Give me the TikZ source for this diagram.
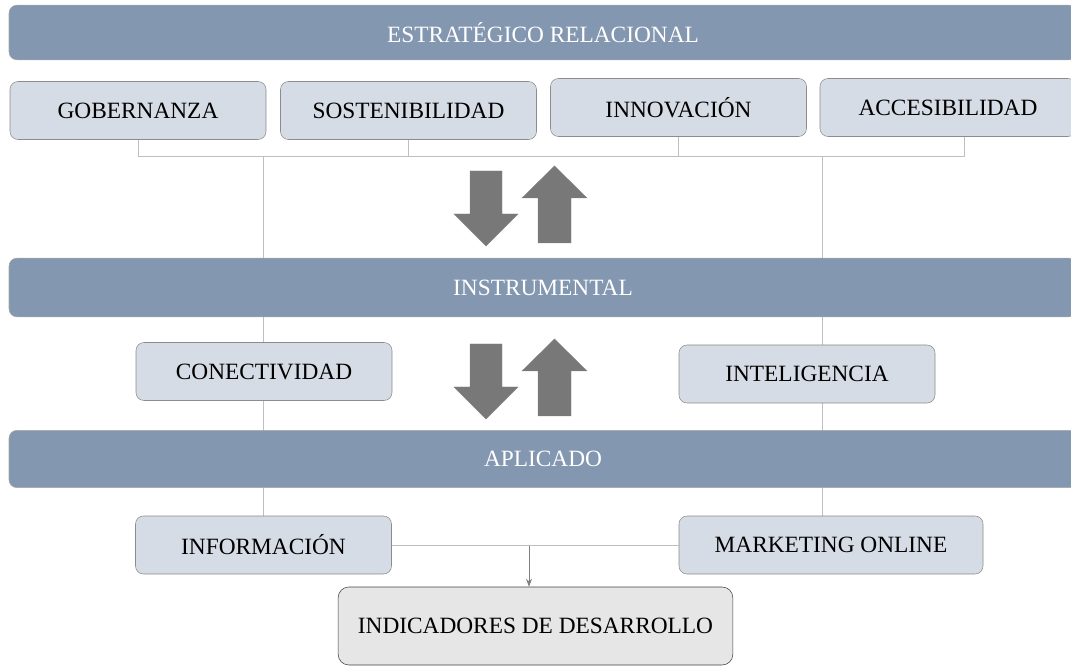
\documentclass[tikz,border=0pt]{standalone}
\usepackage{fontspec}
\setmainfont{Liberation Serif}
\usetikzlibrary{arrows.meta}

\definecolor{barfill}{HTML}{8497B0}
\definecolor{boxfill}{HTML}{D6DCE5}
\definecolor{endfill}{HTML}{E7E6E6}
\definecolor{blockgray}{HTML}{787878}
\definecolor{linkgray}{HTML}{BFBFBF}

\tikzset{
  lvlbar/.style={draw=gray!70, fill=barfill, rounded corners=6pt, inner sep=0pt,
    minimum width=801pt, minimum height=43pt, text=white, font=\fontsize{17.5}{21}\selectfont},
  topicbox/.style={draw=gray!90, fill=boxfill, rounded corners=6pt, inner sep=0pt,
    minimum width=192pt, minimum height=43.5pt, font=\fontsize{17.5}{21}\selectfont},
  endbox/.style={draw=black!75, fill=endfill, rounded corners=8pt, inner sep=0pt,
    minimum width=296pt, minimum height=58.5pt, font=\fontsize{17.5}{21}\selectfont},
  link/.style={draw=linkgray, line width=0.6pt},
  blockarrow/.style={fill=blockgray, draw=blockgray!90, line width=0.3pt}
}

\begin{document}
\begin{tikzpicture}[x=0.75pt,y=0.75pt,yscale=-1,xscale=1]
\useasboundingbox (0,0) rectangle (1071,666);
\clip (0,0) rectangle (1071,666);

% bus coordinates
\coordinate (busL) at (263,156);
\coordinate (busR) at (822,156);
\coordinate (join) at (529,546);

%Shape: Rounded Rect -- first row
\node[topicbox] (gob) at (138,110.5) {GOBERNANZA};
\node[topicbox] (sos) at (408.5,110.5) {SOSTENIBILIDAD};
\node[topicbox] (inn) at (678.5,107.5) {INNOVACIÓN};
\node[topicbox] (acc) at (948,107.5) {ACCESIBILIDAD};

%Straight Lines -- drawn behind the bars and boxes
\draw[link] (gob.south) |- ([xshift=12pt]acc.south |- busL) -- ([xshift=12pt]acc.south);
\draw[link] (sos.south) -- (sos.south |- busL);
\draw[link] (inn.south) -- (inn.south |- busL);
\draw[link] (busL) -- (busL |- 0,516);
\draw[link] (busR) -- (busR |- 0,516);

%Shape: Rounded Rect -- bars
\node[lvlbar, minimum height=41pt] (estr) at (543,32.5) {ESTRATÉGICO RELACIONAL};
\node[lvlbar, minimum height=44pt] (instr) at (543,287.5) {INSTRUMENTAL};
\node[lvlbar] (apl) at (543,459) {APLICADO};

%Shape: Rounded Rect -- second and third row
\node[topicbox] (con) at (264,371.5) {CONECTIVIDAD};
\node[topicbox] (intel) at (807,374) {INTELIGENCIA};
\node[topicbox] (info) at (263.5,545) {INFORMACIÓN};
\node[topicbox, minimum width=228pt] (mkt) at (831,545) {MARKETING ONLINE};

%Shape: Rounded Rect -- result
\node[endbox] (ind) at (535.5,626) {INDICADORES DE DESARROLLO};

%Straight Lines -- bottom join
\draw[link] (info.east) -- (mkt.west);
\draw[draw=gray, line width=0.6pt, -{Stealth[length=6pt,width=4.5pt]}] (join) -- (join |- ind.north);

%Down / Up Arrows
\foreach \dy in {0,173}{
  \draw[blockarrow] (470,171+\dy) -- (502,171+\dy) -- (502,214+\dy) -- (518,214+\dy)
    -- (486,246+\dy) -- (454,214+\dy) -- (470,214+\dy) -- cycle;
  \draw[blockarrow] (538,243+\dy) -- (571,243+\dy) -- (571,198+\dy) -- (587,198+\dy)
    -- (554.5,166+\dy) -- (522,198+\dy) -- (538,198+\dy) -- cycle;
}

\end{tikzpicture}
\end{document}
